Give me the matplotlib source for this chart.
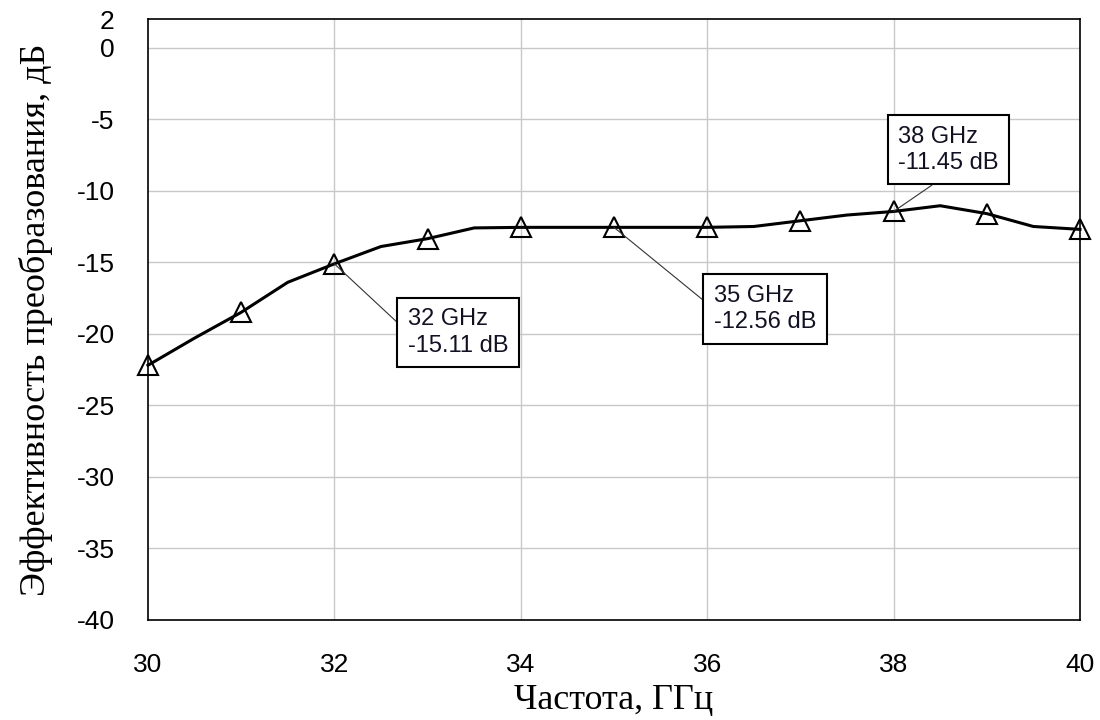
import matplotlib
matplotlib.use('Agg')
import matplotlib.pyplot as plt

plt.rcParams['axes.unicode_minus'] = False

# frequency, GHz (curve sampled every 0.5 GHz, markers on whole GHz)
freq = [30, 30.5, 31, 31.5, 32, 32.5, 33, 33.5, 34, 34.5, 35,
        35.5, 36, 36.5, 37, 37.5, 38, 38.5, 39, 39.5, 40]
conv = [-22.2, -20.3, -18.5, -16.4, -15.11, -13.9, -13.35, -12.6, -12.56, -12.56, -12.56,
        -12.56, -12.56, -12.5, -12.1, -11.7, -11.45, -11.05, -11.6, -12.5, -12.7]

# data markers: (freq, value, text position)
marks_f = [32, 35, 38]
marks_v = [-15.11, -12.56, -11.45]
marks_txt = ['32 GHz\n-15.11 dB', '35 GHz\n-12.56 dB', '38 GHz\n-11.45 dB']

yticks = [2, 0, -5, -10, -15, -20, -25, -30, -35, -40]
xticks = [30, 32, 34, 36, 38, 40]

fig = plt.figure(figsize=(11, 7.2), dpi=100)
ax = fig.add_axes([0.1345, 0.1389, 0.8473, 0.8347])

ax.plot(freq, conv, color='black', lw=2.2, marker='^', markersize=14,
        markerfacecolor='none', markeredgewidth=1.5, markevery=2, clip_on=False, zorder=3)

ax.set_xlim(30, 40)
ax.set_ylim(-40, 2)
ax.set_xticks(xticks)
ax.set_yticks(yticks)
ax.tick_params(length=0, pad=24, labelsize=19)
for lab in ax.get_xticklabels() + ax.get_yticklabels():
    lab.set_fontfamily('Liberation Sans')

# grid by hand so the top tick (2) gets no line
for xv in xticks[1:-1]:
    ax.axvline(xv, color='#c8c8c8', lw=1, zorder=1)
for yv in yticks[1:-1]:
    ax.axhline(yv, color='#c8c8c8', lw=1, zorder=1)

for s in ax.spines.values():
    s.set_linewidth(1.2)
    s.set_color('black')

ax.set_xlabel('Частота, ГГц', family='Liberation Serif', fontsize=26, labelpad=5)
ax.set_ylabel('Эффективность преобразования, дБ', family='Liberation Serif', fontsize=26, labelpad=17)

# label boxes
txt_pos = [(32.79, -19.9), (36.07, -18.25), (38.05, -7.13)]
relpos = [(0, 0.5), (0, 0.5), (0.5, 0)]
for f, v, t, p, r in zip(marks_f, marks_v, marks_txt, txt_pos, relpos):
    ax.annotate(t, xy=(f, v), xytext=p, textcoords='data', ha='left', va='center',
                fontsize=17, family='Liberation Sans', color='#111122', linespacing=1.25,
                bbox=dict(boxstyle='square,pad=0.45', fc='white', ec='black', lw=1.5),
                arrowprops=dict(arrowstyle='-', color='#333333', lw=0.8, relpos=r,
                                shrinkA=0, shrinkB=0), zorder=5)

fig.savefig('out.png', dpi=100)
